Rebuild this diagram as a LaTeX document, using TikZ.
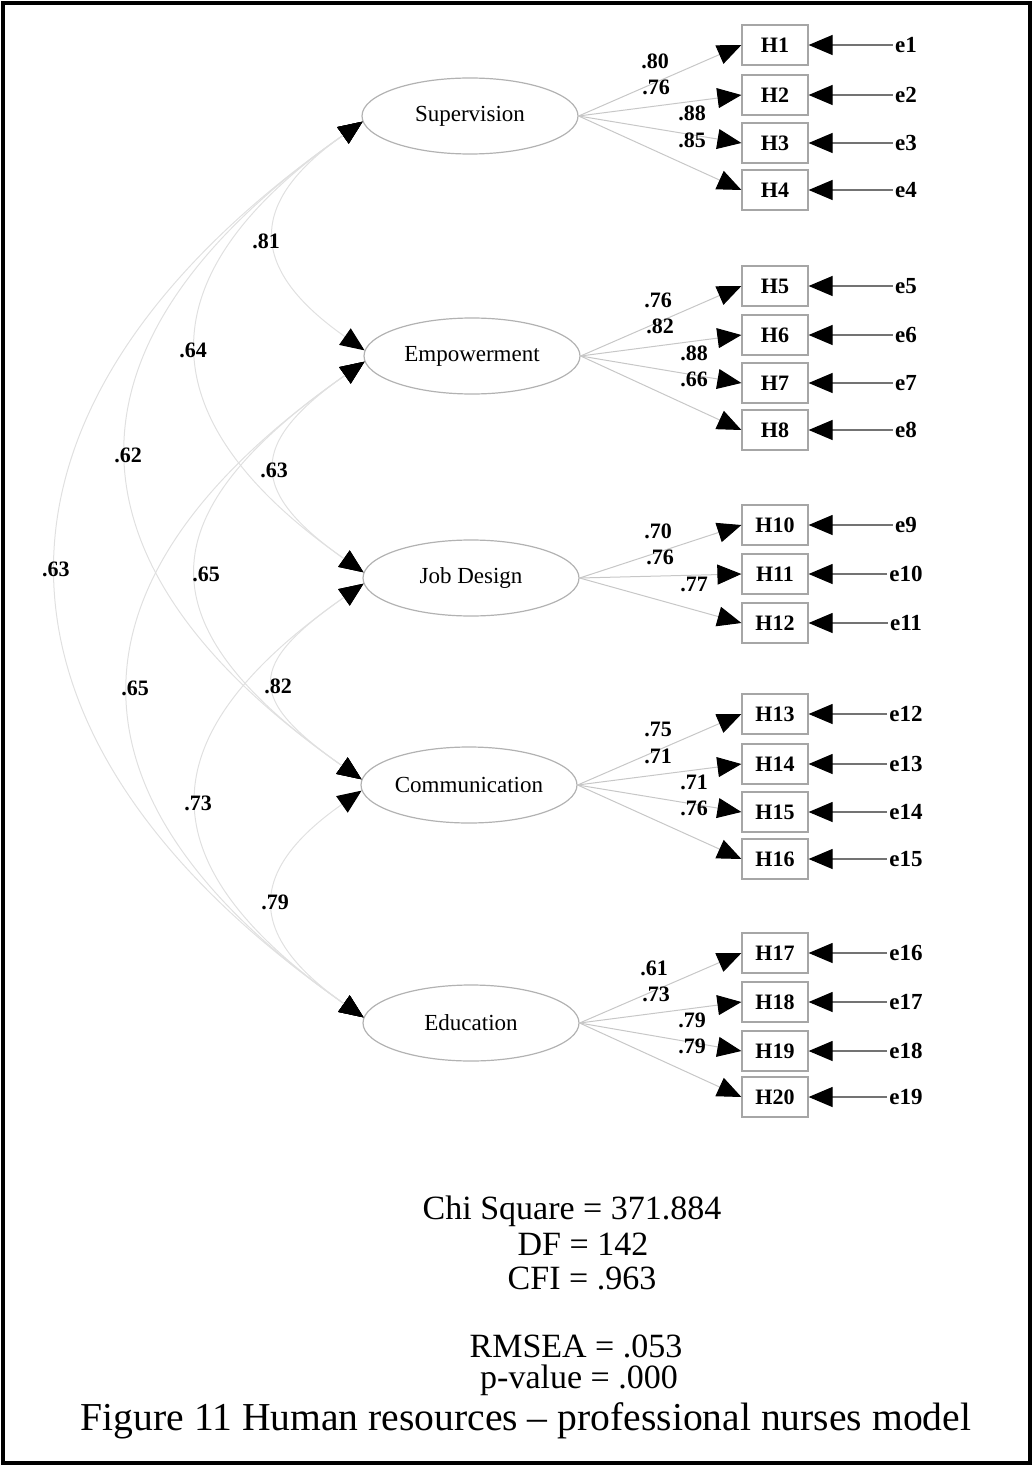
\documentclass[tikz,border=0pt]{standalone}
\usepackage{fontspec}
\setmainfont{Liberation Serif}
\usetikzlibrary{arrows.meta,shapes.geometric}
\begin{document}
\begin{tikzpicture}[x=0.5pt,y=0.5pt,
  latent/.style={ellipse, draw=black!30, line width=0.6pt, minimum width=108pt, minimum height=38pt, inner sep=0pt, font=\fontsize{11.5}{13}\selectfont},
  obs/.style={rectangle, draw=black!35, line width=0.6pt, minimum width=33pt, minimum height=20pt, inner sep=0pt, font=\fontsize{11}{13}\selectfont\bfseries},
  errlab/.style={inner sep=1pt, font=\fontsize{11.5}{13}\selectfont\bfseries},
  num/.style={inner sep=0pt, font=\fontsize{11}{13}\selectfont\bfseries},
  stat/.style={inner sep=0pt, font=\fontsize{17}{18}\selectfont},
  blacktip/.style={-{Triangle[length=12pt,width=10pt,color=black]}},
  load/.style={blacktip, draw=black!22, line width=0.5pt},
  eline/.style={blacktip, draw=black!55, line width=0.6pt},
  cov/.style={{Triangle[length=12pt,width=10pt,color=black]}-{Triangle[length=12pt,width=10pt,color=black]}, draw=black!12, line width=0.5pt},
]
\useasboundingbox (0,0) rectangle (1034,-1466);
\draw[line width=2pt] (3,-3) rectangle (1030,-1463);

% latent factors
\node[latent] (sup) at (470,-116) {Supervision};
\node[latent] (emp) at (472,-356) {Empowerment};
\node[latent] (job) at (471,-578) {Job Design};
\node[latent] (com) at (469,-785) {Communication};
\node[latent] (edu) at (471,-1023) {Education};

% observed indicators
\foreach \n/\t/\y in {h1/H1/45,h2/H2/95,h3/H3/143,h4/H4/190,
  h5/H5/286,h6/H6/335,h7/H7/383,h8/H8/430,
  h10/H10/525,h11/H11/574,h12/H12/623,
  h13/H13/714,h14/H14/764,h15/H15/812,h16/H16/859,
  h17/H17/953,h18/H18/1002,h19/H19/1051,h20/H20/1097}
  \node[obs] (\n) at (775,-\y) {\t};

% error terms
\foreach \n/\t/\y/\h in {e1/e1/45/h1,e2/e2/95/h2,e3/e3/143/h3,e4/e4/190/h4,
  e5/e5/286/h5,e6/e6/335/h6,e7/e7/383/h7,e8/e8/430/h8,
  e9/e9/525/h10,e10/e10/574/h11,e11/e11/623/h12,
  e12/e12/714/h13,e13/e13/764/h14,e14/e14/812/h15,e15/e15/859/h16,
  e16/e16/953/h17,e17/e17/1002/h18,e18/e18/1051/h19,e19/e19/1097/h20}
  {\node[errlab] (\n) at (906,-\y) {\t};
   \draw[eline] (\n.west) -- (\h.west -| \h.east);}

% loadings
\foreach \f/\h in {sup/h1,sup/h2,sup/h3,sup/h4,emp/h5,emp/h6,emp/h7,emp/h8,
  job/h10,job/h11,job/h12,com/h13,com/h14,com/h15,com/h16,
  edu/h17,edu/h18,edu/h19,edu/h20}
  \draw[load] (\f.east) -- (\h.west);

% loading labels
\foreach \n/\t/\x/\y in {l1/.80/655/61,l2/.76/656/87,l3/.88/692/113,l4/.85/692/140,
  l5/.76/658/300,l6/.82/660/326,l7/.88/694/353,l8/.66/694/379,
  l9/.70/658/531,l10/.76/660/557,l11/.77/694/584,
  l12/.75/658/729,l13/.71/658/756,l14/.71/694/782,l15/.76/694/808,
  l16/.61/654/968,l17/.73/656/994,l18/.79/692/1020,l19/.79/692/1046}
  \node[num] (\n) at (\x,-\y) {\t};

% covariances
\draw[cov] (sup.183) to[out=215,in=145,distance=71pt] (emp.177);
\draw[cov] (emp.183) to[out=215,in=145,distance=71pt] (job.177);
\draw[cov] (job.183) to[out=215,in=145,distance=71pt] (com.177);
\draw[cov] (com.183) to[out=215,in=145,distance=71pt] (edu.177);
\draw[cov] (sup.183) to[out=215,in=145,distance=134pt] (job.177);
\draw[cov] (emp.183) to[out=215,in=145,distance=134pt] (com.177);
\draw[cov] (job.183) to[out=215,in=145,distance=134pt] (edu.177);
\draw[cov] (sup.183) to[out=215,in=145,distance=190pt] (com.177);
\draw[cov] (emp.183) to[out=215,in=145,distance=190pt] (edu.177);
\draw[cov] (sup.183) to[out=215,in=145,distance=248pt] (edu.177);

% covariance labels
\foreach \n/\t/\x/\y in {c1/.81/266/241,c2/.64/193/350,c3/.62/128/455,c4/.63/274/470,
  c5/.63/56/569,c6/.65/206/574,c7/.65/135/688,c8/.82/278/686,c9/.73/198/803,c10/.79/275/902}
  \node[num] (\n) at (\x,-\y) {\t};

% fit statistics and caption
\node[stat] (chi) at (572,-1211) {Chi Square = 371.884};
\node[stat] (df) at (583,-1244) {DF = 142};
\node[stat] (cfi) at (582,-1278) {CFI = .963};
\node[stat] (rmsea) at (576,-1346) {RMSEA = .053};
\node[stat] (pval) at (579,-1380) {p-value = .000};
\node[inner sep=0pt, font=\fontsize{19.8}{21}\selectfont] (cap) at (526,-1421) {Figure 11 Human resources -- professional nurses model};
\end{tikzpicture}
\end{document}
